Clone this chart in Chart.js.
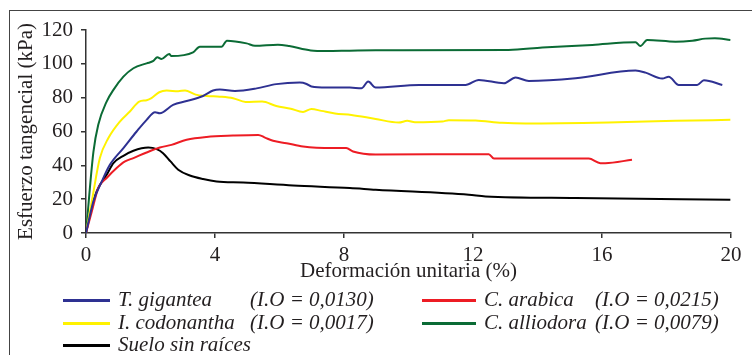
<!DOCTYPE html>
<html>
<head>
<meta charset="utf-8">
<script src="https://cdn.jsdelivr.net/npm/chart.js@4.4.0/dist/chart.umd.min.js"></script>
<style>
body { margin: 0; background: #fff; }
#wrap { position: relative; width: 752px; height: 355px; overflow: hidden; }
#frame { position: absolute; left: 9px; top: 10px; width: 800px; height: 400px;
  border-top: 1.5px solid #444; border-left: 1.5px solid #444; }
canvas { position: absolute; left: 0; top: 0; }
.lg { position: absolute; font: italic 21px "Liberation Serif", serif; color: #231f20;
  white-space: nowrap; line-height: 22px; }
.sw { position: absolute; height: 2.5px; }
</style>
</head>
<body>
<div id="wrap">
  <div id="frame"></div>
  <canvas id="chart_0" width="752" height="355"></canvas>
</div>
<script>
// strain (%) and shear stress (kPa)
var giganteaX = [0, 0.23, 0.49, 0.74, 1.16, 1.57, 1.88, 2.14, 2.29, 2.7, 3.12, 3.63, 3.94, 4.15, 4.62, 5.29, 5.9, 6.63, 6.84, 6.99, 7.46, 8.18, 8.54, 8.75, 8.98, 10.33, 11.77, 12.18, 12.96, 13.32, 13.73, 15.18, 17.04, 17.35, 17.87, 18.07, 18.38, 18.95, 19.16, 19.73];
var giganteaY = [0, 18.7, 30.5, 40.3, 50.2, 60, 66.9, 71.4, 70.8, 75.7, 78, 81, 84.2, 84.8, 84, 85.5, 88, 88.9, 88.1, 86.6, 86, 86, 85.5, 89.5, 86, 87.5, 87.5, 90.5, 88.5, 91.9, 89.9, 91.5, 96, 94.8, 91.3, 92.4, 87.5, 87.5, 90.3, 87.5];

var arabicaX = [0, 0.18, 0.38, 0.64, 0.95, 1.21, 1.47, 1.88, 2.29, 2.65, 3.12, 3.74, 4.56, 5.34, 5.55, 5.8, 6.22, 6.73, 7.66, 8.07, 8.28, 8.98, 12.49, 12.65, 15.59, 15.95, 16.1, 16.93];
var arabicaY = [0, 12.7, 26.6, 32.5, 38.4, 42.3, 44.3, 47.6, 50.5, 52.1, 55.1, 56.8, 57.6, 58, 56.4, 54.5, 53.1, 51.1, 50.2, 50.2, 48.2, 46.4, 46.6, 44, 44, 41.3, 41.3, 43.3];

var codonanthaX = [0, 0.18, 0.43, 0.69, 1.05, 1.36, 1.65, 1.88, 2.03, 2.27, 2.5, 2.86, 3.07, 3.4, 3.74, 4.15, 4.56, 4.95, 5.46, 5.9, 6.35, 6.73, 6.99, 7.3, 7.72, 8.23, 8.98, 9.7, 9.96, 10.2, 11.05, 11.25, 12.08, 12.9, 13.63, 16.2, 18.28, 19.98];
var codonanthaY = [0, 18.7, 44.3, 56, 65.9, 71.8, 77.7, 78.5, 79.7, 83.2, 84.2, 83.8, 84.3, 81.8, 81, 80.6, 79.7, 77.5, 77.7, 75.1, 73.5, 71.6, 73.3, 72.2, 70.7, 69.8, 67.4, 65.3, 66.3, 65.5, 65.9, 66.7, 66.5, 65.1, 64.7, 65.3, 66.3, 66.9];

var alliodoraX = [0, 0.23, 0.38, 0.64, 0.85, 1.16, 1.47, 1.88, 2.09, 2.21, 2.34, 2.58, 2.65, 3.32, 3.53, 4.2, 4.37, 4.98, 5.24, 5.95, 6.3, 6.97, 7.45, 8.18, 8.98, 13.1, 14.15, 15.7, 17.04, 17.19, 17.4, 18.28, 18.8, 19.2, 19.5, 19.98];
var alliodoraY = [0, 48, 64, 77.7, 84.6, 92.4, 97.4, 100.3, 101.7, 103.9, 102.9, 105.8, 104.6, 106.8, 110.1, 110.1, 113.7, 112.1, 110.7, 111.3, 110.5, 107.9, 107.6, 107.8, 108, 108.2, 109.6, 111.2, 112.7, 110.5, 114.1, 113.1, 113.7, 114.9, 115.1, 114.1];

var sueloX = [0, 0.12, 0.33, 0.64, 0.85, 1.16, 1.47, 1.93, 2.19, 2.39, 2.62, 2.86, 3.22, 3.63, 4.05, 4.87, 6.42, 8.18, 8.98, 11.87, 12.39, 15.18, 19.98];
var sueloY = [0, 10.8, 24.6, 34.4, 41.3, 45.6, 48.6, 50.5, 49.6, 47.2, 42.3, 37.4, 34, 31.9, 30.5, 29.9, 28.1, 26.6, 25.6, 22.6, 21.6, 20.7, 19.7];

var xTicks = [0, 4, 8, 12, 16, 20];
var yTicks = [0, 20, 40, 60, 80, 100, 120];

var names = ["T. gigantea", "C. arabica", "I. codonantha", "C. alliodora", "Suelo sin raíces"];
var ioValues = ["(I.O = 0,0130)", "(I.O = 0,0215)", "(I.O = 0,0017)", "(I.O = 0,0079)", ""];
var lineColors = ["#2e3192", "#ed1c24", "#fff200", "#0b6b35", "#000000"];

function pts(xs, ys) {
  var out = [];
  for (var i = 0; i < xs.length; i++) out.push({x: xs[i], y: ys[i]});
  return out;
}
var series = [pts(giganteaX, giganteaY), pts(arabicaX, arabicaY), pts(codonanthaX, codonanthaY),
  pts(alliodoraX, alliodoraY), pts(sueloX, sueloY)];

var sets = [];
for (var i = 0; i < series.length; i++) {
  sets.push({
    label: names[i],
    data: series[i],
    borderColor: lineColors[i],
    borderWidth: 2,
    pointRadius: 0,
    showLine: true,
    fill: false,
    cubicInterpolationMode: "monotone"
  });
}

var serif = "'Liberation Serif', 'Times New Roman', serif";

new Chart("chart_0", {
  type: "scatter",
  data: { datasets: sets },
  options: {
    responsive: false,
    animation: false,
    layout: { padding: { left: 14, right: 21, top: 30, bottom: 71 } },
    plugins: { legend: { display: false }, tooltip: { enabled: false } },
    scales: {
      x: {
        type: "linear", min: 0, max: 20,
        afterBuildTicks: function (s) { s.ticks = xTicks.map(function (v) { return {value: v}; }); },
        afterFit: function (s) { s.height = 51; },
        grid: { drawOnChartArea: false, drawTicks: true, tickLength: 5, color: "#333", lineWidth: 1.5 },
        border: { display: true, color: "#333", width: 1.5 },
        ticks: { color: "#231f20", font: { family: serif, size: 21 }, padding: 5, maxRotation: 0 },
        title: { display: true, text: "Deformación unitaria (%)", color: "#231f20",
          font: { family: serif, size: 21 }, padding: 0 }
      },
      y: {
        min: 0, max: 120,
        afterBuildTicks: function (s) { s.ticks = yTicks.map(function (v) { return {value: v}; }); },
        afterFit: function (s) { s.width = 72; },
        grid: { drawOnChartArea: false, drawTicks: true, tickLength: 5, color: "#333", lineWidth: 1.5 },
        border: { display: true, color: "#333", width: 1.5 },
        ticks: { color: "#231f20", font: { family: serif, size: 21 }, padding: 8 },
        title: { display: true, text: "Esfuerzo tangencial (kPa)", color: "#231f20",
          font: { family: serif, size: 21 }, padding: 0 }
      }
    }
  }
});

// legend laid out like the figure: two columns, three rows
var wrap = document.getElementById("wrap");
var rowY = [300, 323, 345];
var colX = [[63, 118, 250], [422, 484, 595]];
for (var k = 0; k < names.length; k++) {
  var r = Math.floor(k / 2), c = k % 2;
  var sw = document.createElement("div");
  sw.className = "sw";
  sw.style.left = colX[c][0] + "px";
  sw.style.top = (rowY[r] - 1) + "px";
  sw.style.width = (colX[c][1] - colX[c][0] - 8) + "px";
  sw.style.background = lineColors[k];
  wrap.appendChild(sw);
  var t = document.createElement("div");
  t.className = "lg";
  t.style.left = colX[c][1] + "px";
  t.style.top = (rowY[r] - 12) + "px";
  t.textContent = names[k];
  wrap.appendChild(t);
  if (ioValues[k]) {
    var io = document.createElement("div");
    io.className = "lg";
    io.style.left = colX[c][2] + "px";
    io.style.top = (rowY[r] - 12) + "px";
    io.textContent = ioValues[k];
    wrap.appendChild(io);
  }
}
</script>
</body>
</html>
